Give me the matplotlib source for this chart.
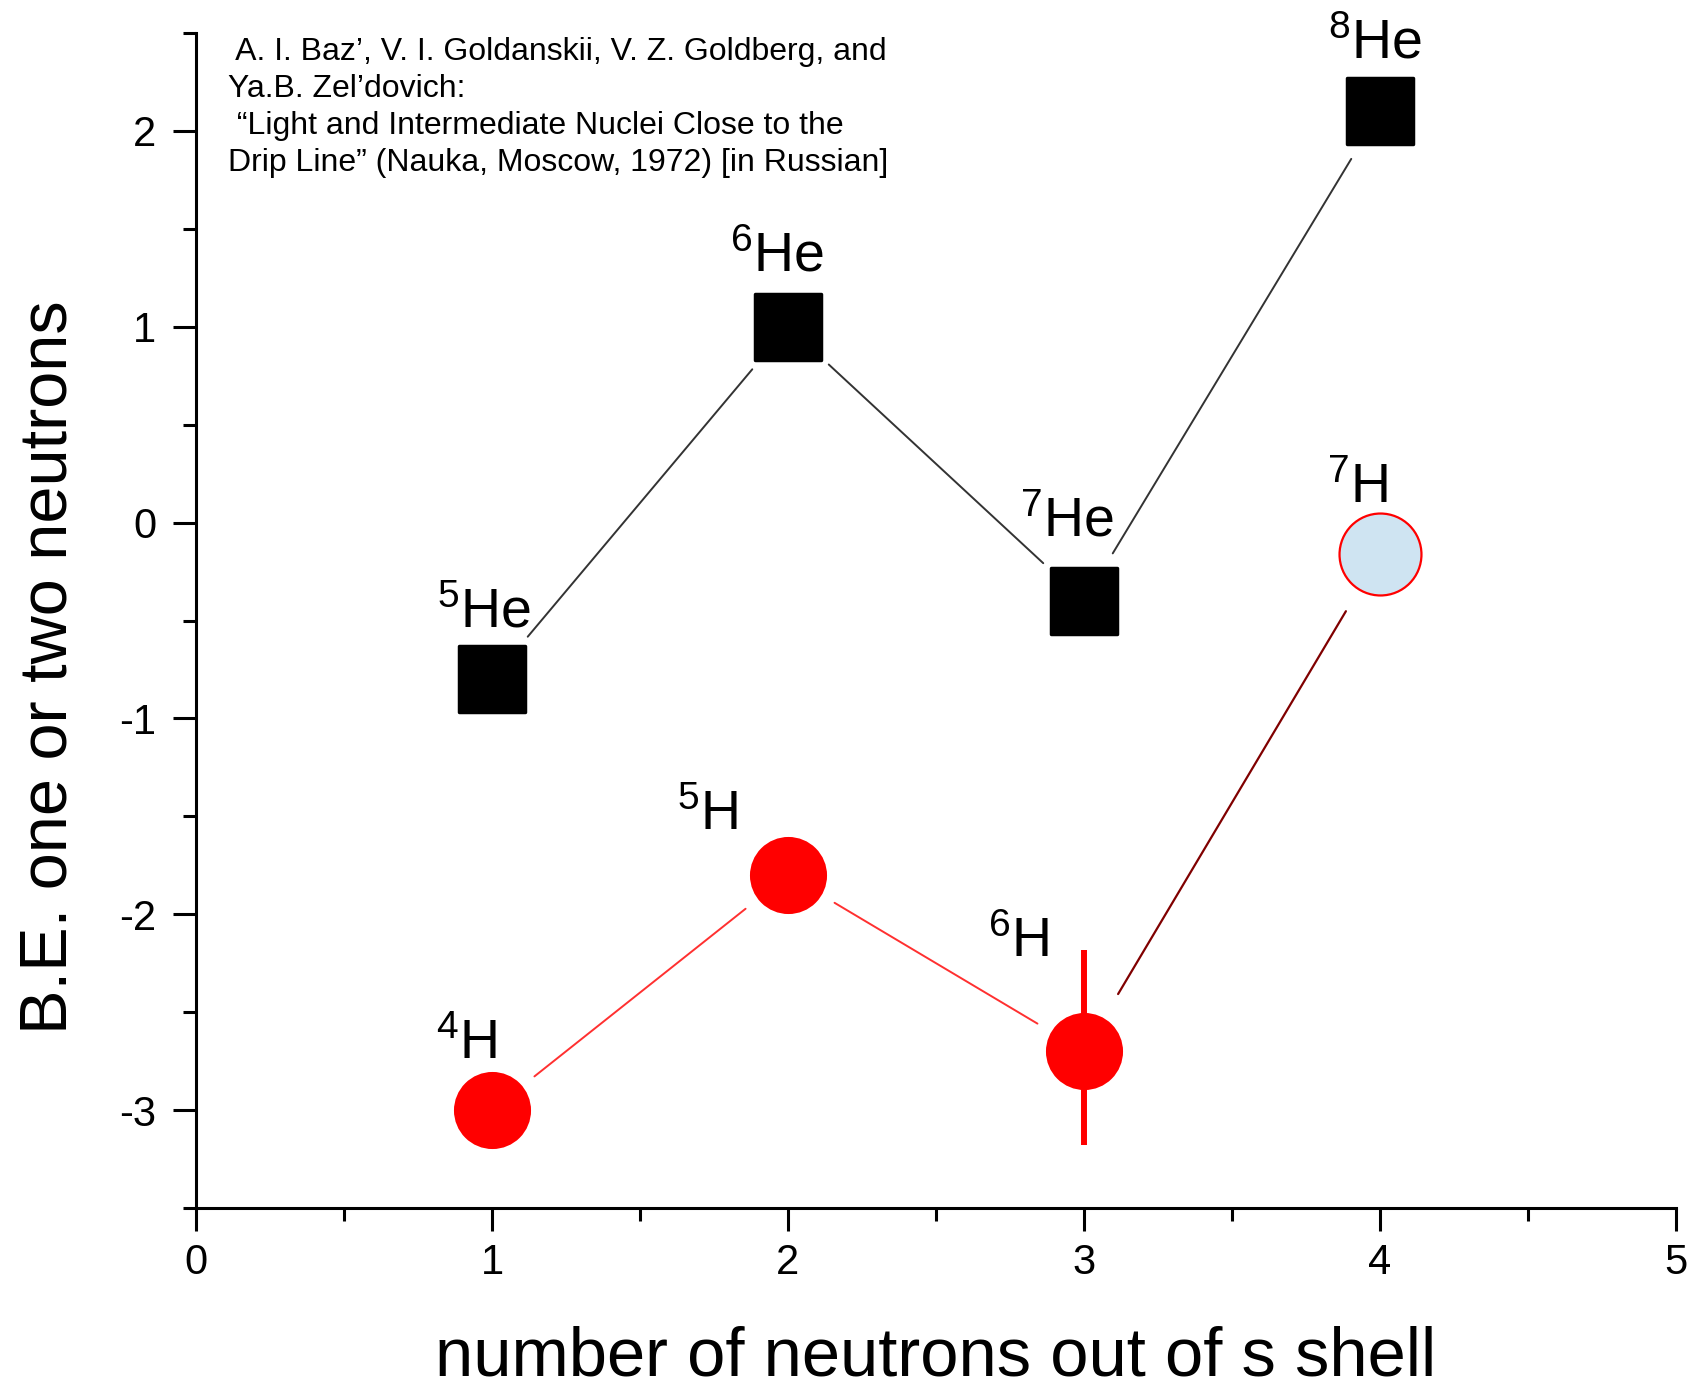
import matplotlib
matplotlib.use("Agg")
import matplotlib.pyplot as plt
from matplotlib.ticker import MultipleLocator
from matplotlib.markers import MarkerStyle

# ---------------- data ----------------
n_out = [1, 2, 3, 4]
he_be = [-0.8, 1.0, -0.4, 2.1]
he_mass = ["5", "6", "7", "8"]
h_be = [-3.0, -1.8, -2.7, -0.16]
h_mass = ["4", "5", "6", "7"]
h6_err_low = 0.48
h6_err_high = 0.52
x_label = "number of neutrons out of s shell"
y_label = "B.E. one or two neutrons"
ref_lines = [" A. I. Baz\u2019, V. I. Goldanskii, V. Z. Goldberg, and",
             "Ya.B. Zel\u2019dovich:",
             " \u201cLight and Intermediate Nuclei Close to the",
             "Drip Line\u201d (Nauka, Moscow, 1972) [in Russian]"]

# ---------------- style ----------------
plt.rcParams["font.family"] = ["Liberation Sans", "DejaVu Sans"]
plt.rcParams["mathtext.fontset"] = "custom"
plt.rcParams["mathtext.rm"] = "Liberation Sans"
plt.rcParams["mathtext.it"] = "Liberation Sans"
plt.rcParams["axes.unicode_minus"] = False

W, H = 1695, 1390
fig = plt.figure(figsize=(W / 100, H / 100), dpi=100)
ax = fig.add_axes([196 / W, 1 - 1208 / H, 1480 / W, 1175 / H])

ax.set_xlim(0, 5)
ax.set_ylim(-3.5, 2.5)
for s in ["top", "right"]:
    ax.spines[s].set_visible(False)
for s in ["left", "bottom"]:
    ax.spines[s].set_linewidth(2.2)
ax.xaxis.set_major_locator(MultipleLocator(1))
ax.xaxis.set_minor_locator(MultipleLocator(0.5))
ax.yaxis.set_major_locator(MultipleLocator(1))
ax.yaxis.set_minor_locator(MultipleLocator(0.5))
ax.tick_params(which="major", direction="out", length=16.5, width=2.2, labelsize=30)
ax.tick_params(axis="x", which="major", pad=9)
ax.tick_params(axis="y", which="major", pad=12)
ax.tick_params(which="minor", direction="out", length=9.5, width=2.2)

ax.set_xlabel(x_label, fontsize=49.5)
ax.xaxis.set_label_coords(0.5, -0.0996)
ax.set_ylabel(y_label, fontsize=48)
ax.yaxis.set_label_coords(-0.078, 0.46)

# connecting lines with gaps around markers
def connect(xs, ys, color, lw, shrink):
    for i in range(len(xs) - 1):
        ax.annotate("", xy=(xs[i + 1], ys[i + 1]), xytext=(xs[i], ys[i]),
                    arrowprops=dict(arrowstyle="-", color=color, lw=lw,
                                    shrinkA=shrink, shrinkB=shrink),
                    zorder=2)

connect(n_out, he_be, "#333333", 1.4, 40)
connect(n_out[:3], h_be[:3], "#ff3030", 1.4, 39)
connect(n_out[2:], h_be[2:], "#800000", 1.6, 48)

# markers
sq = MarkerStyle("s", joinstyle="round")
ax.plot(n_out, he_be, linestyle="none", marker=sq, markersize=47,
        markerfacecolor="black", markeredgecolor="black", markeredgewidth=2.5,
        zorder=3)
ax.errorbar([n_out[2]], [h_be[2]], yerr=[[h6_err_low], [h6_err_high]],
            fmt="none", ecolor="#ff0000", elinewidth=4.3, capsize=0, zorder=3)
ax.plot(n_out[:3], h_be[:3], linestyle="none", marker="o", markersize=55.5,
        markerfacecolor="#ff0000", markeredgecolor="#ff0000", markeredgewidth=0,
        zorder=4)
ax.plot(n_out[3:], h_be[3:], linestyle="none", marker="o", markersize=59,
        markerfacecolor="#cfe4f2", markeredgecolor="#ff0000", markeredgewidth=1.6,
        zorder=4)

# isotope labels (offsets in pixels from each point)
he_off = [(-8, 52), (-11, 55), (-17, 65), (-5, 53)]
h_off = [(-25, 51), (-80, 45), (-65, 94), (-22, 51)]
for x, y, m, off in zip(n_out, he_be, he_mass, he_off):
    ax.annotate(r"$^{%s}$He" % m, xy=(x, y), xytext=off, textcoords="offset pixels",
                ha="center", va="baseline", fontsize=40, annotation_clip=False)
for x, y, m, off in zip(n_out, h_be, h_mass, h_off):
    ax.annotate(r"$^{%s}$H" % m, xy=(x, y), xytext=off, textcoords="offset pixels",
                ha="center", va="baseline", fontsize=40, annotation_clip=False)

# reference text
fig.text(228 / W, 1 - 37 / H, "\n".join(ref_lines), ha="left", va="top",
         fontsize=23, linespacing=1.3)

fig.savefig("out.png", dpi=100)
